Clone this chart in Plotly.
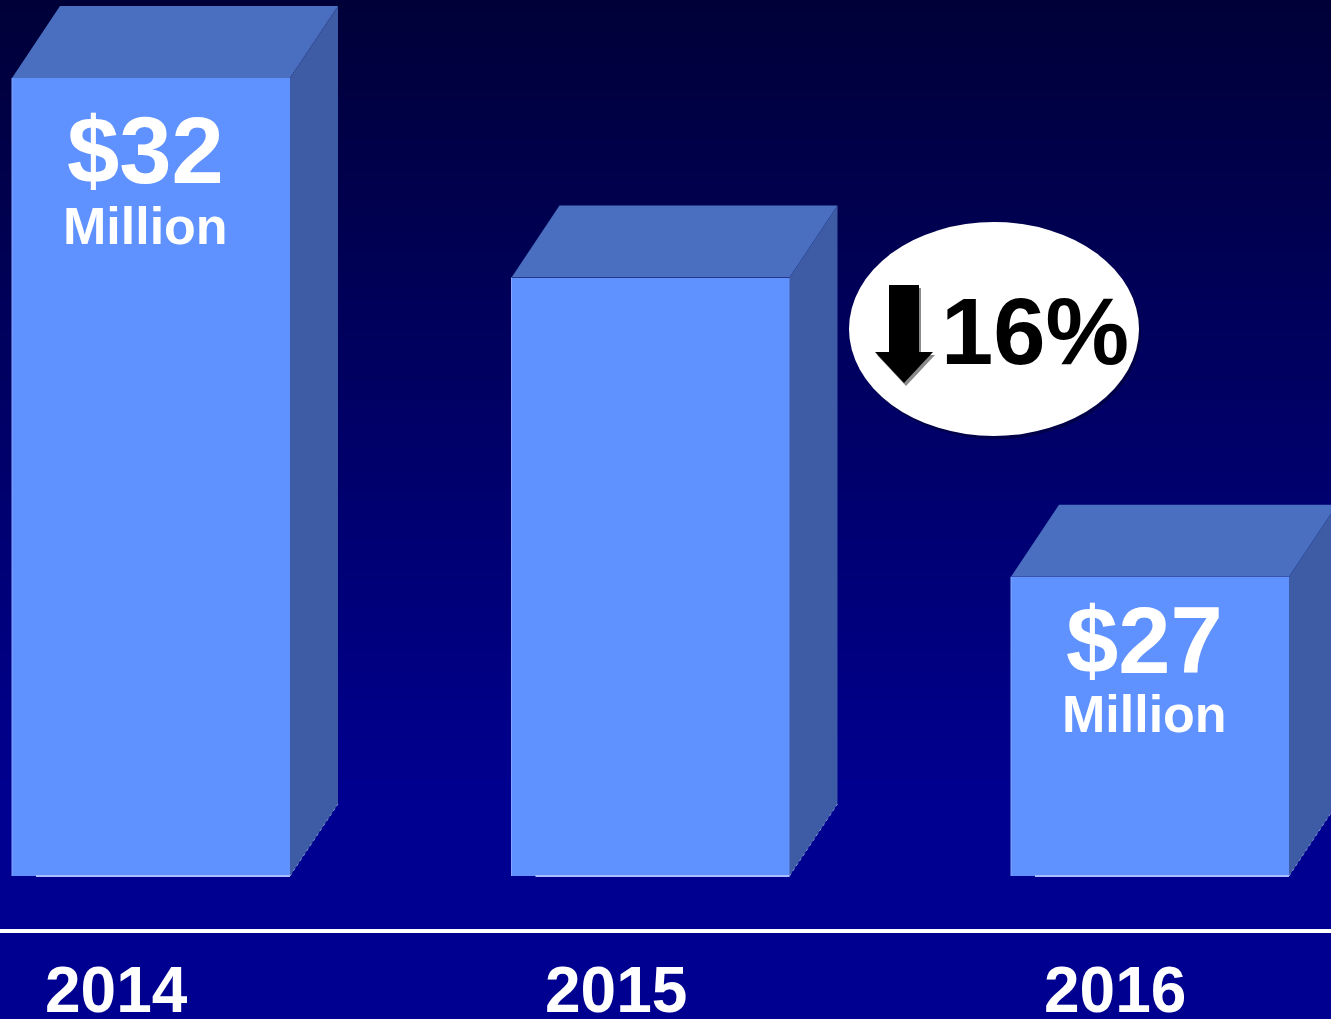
import plotly.graph_objects as go

# ---- data ----
years = ["2014", "2015", "2016"]
values = [32, 30, 27]          # $ millions
value_labels = ["$32", "", "$27"]
unit_labels = ["Million", "", "Million"]
change_label = "16%"

# ---- style / geometry constants ----
W, H = 1331, 1019
BASE = 24.0                    # axis floor (truncated axis)
X0_PX, X_UNIT_PX = 151.0, 499.5
Y_BASE_PX, Y_UNIT_PX = 876.0, 99.75
BAR_W = 278 / X_UNIT_PX
DX = 48 / X_UNIT_PX
DY = 72 / Y_UNIT_PX
# pixel offsets of the in-bar labels below each bar top (value, unit)
LABEL_OFFSETS = [(72, 148), (0, 0), (64, 137)]

FRONT = "#6092FF"
TOP = "#4A6FC0"
SIDE = "#3E5CA6"
FONT = "Liberation Sans, Arial, sans-serif"


def px_x(p):
    return (p - X0_PX) / X_UNIT_PX


def px_y(p):
    return BASE + (Y_BASE_PX - p) / Y_UNIT_PX


xr = [px_x(0), px_x(W)]
yr = [px_y(H), px_y(0)]

fig = go.Figure()
xs = list(range(len(years)))

# front faces
fig.add_trace(go.Bar(
    x=xs, y=[v - BASE for v in values], base=[BASE] * len(values),
    width=BAR_W, marker=dict(color=FRONT, line=dict(width=0)),
    hoverinfo="skip", showlegend=False))

for i, v in zip(xs, values):
    l, r = i - BAR_W / 2, i + BAR_W / 2
    # top face
    fig.add_trace(go.Scatter(
        x=[l, r, r + DX, l + DX, l], y=[v, v, v + DY, v + DY, v],
        fill="toself", fillcolor=TOP, mode="lines", line=dict(width=0),
        hoverinfo="skip", showlegend=False))
    # side face
    fig.add_trace(go.Scatter(
        x=[r, r, r + DX, r + DX, r], y=[BASE, v, v + DY, BASE + DY, BASE],
        fill="toself", fillcolor=SIDE, mode="lines", line=dict(width=0),
        hoverinfo="skip", showlegend=False))
    # light edges
    fig.add_trace(go.Scatter(
        x=[l + DX / 2, r], y=[BASE, BASE], mode="lines",
        line=dict(color="#A8BEFF", width=2), hoverinfo="skip", showlegend=False))
    fig.add_trace(go.Scatter(
        x=[l, l], y=[BASE, v], mode="lines",
        line=dict(color="#86A6FF", width=1), hoverinfo="skip", showlegend=False))
    fig.add_trace(go.Scatter(
        x=[r, r + DX], y=[BASE, BASE + DY], mode="lines",
        line=dict(color="#7C92CC", width=1, dash="dot"), hoverinfo="skip", showlegend=False))

annotations = []
for i, v, vl, ul, yr_lab, (o1, o2) in zip(xs, values, value_labels, unit_labels, years, LABEL_OFFSETS):
    if vl:
        annotations.append(dict(
            x=i - 6 / X_UNIT_PX, y=v - o1 / Y_UNIT_PX, xref="x", yref="y",
            text=f"<b>{vl}</b>", showarrow=False, yanchor="middle",
            font=dict(family=FONT, size=94, color="white")))
        annotations.append(dict(
            x=i - 6 / X_UNIT_PX, y=v - o2 / Y_UNIT_PX, xref="x", yref="y",
            text=f"<b>{ul}</b>", showarrow=False, yanchor="middle",
            font=dict(family=FONT, size=52, color="white")))
    annotations.append(dict(
        x=i - 35 / X_UNIT_PX, y=px_y(990), xref="x", yref="y",
        text=f"<b>{yr_lab}</b>", showarrow=False, yanchor="middle",
        font=dict(family=FONT, size=64, color="white")))

# change badge text
annotations.append(dict(
    x=px_x(1035), y=px_y(331), xref="x", yref="y",
    text=f"<b>{change_label}</b>", showarrow=False, yanchor="middle",
    font=dict(family=FONT, size=94, color="black")))

shapes = []
# background gradient
top_c = (0, 0, 56)
bot_c = (0, 0, 144)
n = 80
grad_end = 800
for k in range(n):
    y0p = grad_end * k / n
    y1p = grad_end * (k + 1) / n + 1
    t = (k + 0.5) / n
    c = tuple(int(round(a + (b - a) * t)) for a, b in zip(top_c, bot_c))
    shapes.append(dict(type="rect", xref="paper", yref="paper",
                       x0=0, x1=1, y0=1 - y1p / H, y1=1 - y0p / H,
                       fillcolor=f"rgb{c}", line=dict(width=0), layer="below"))
shapes.append(dict(type="rect", xref="paper", yref="paper",
                   x0=0, x1=1, y0=0, y1=1 - grad_end / H,
                   fillcolor=f"rgb{bot_c}", line=dict(width=0), layer="below"))

# baseline
shapes.append(dict(type="line", xref="paper", yref="y", x0=0, x1=1,
                   y0=px_y(931), y1=px_y(931), line=dict(color="white", width=4)))

# ellipse badge with shadow
def px_path(pts):
    return "M " + " L ".join(f"{px_x(a)},{px_y(b)}" for a, b in pts) + " Z"

shapes.append(dict(type="circle", xref="x", yref="y",
                   x0=px_x(851), x1=px_x(1141), y0=px_y(439), y1=px_y(225),
                   fillcolor="rgba(0,0,50,0.55)", line=dict(width=0)))
shapes.append(dict(type="circle", xref="x", yref="y",
                   x0=px_x(849), x1=px_x(1139), y0=px_y(436), y1=px_y(222),
                   fillcolor="white", line=dict(width=0)))
arrow = [(889, 285), (919, 285), (919, 352), (933, 352), (904, 383), (875, 352), (889, 352)]
shapes.append(dict(type="path", xref="x", yref="y",
                   path=px_path([(a + 2, b + 3) for a, b in arrow]),
                   fillcolor="#8a8a8a", line=dict(width=0)))
shapes.append(dict(type="path", xref="x", yref="y",
                   path=px_path(arrow), fillcolor="black", line=dict(width=0)))

fig.update_layout(
    width=W, height=H, autosize=False,
    margin=dict(l=0, r=0, t=0, b=0, pad=0),
    paper_bgcolor="rgb(0,0,144)", plot_bgcolor="rgba(0,0,0,0)",
    xaxis=dict(range=xr, visible=False, fixedrange=True),
    yaxis=dict(range=yr, visible=False, fixedrange=True),
    shapes=shapes, annotations=annotations, bargap=0,
)

fig.write_html(
    "out.html",
    config={"displayModeBar": False},
    post_script="document.body.style.margin='0';document.body.style.overflow='hidden';",
)
